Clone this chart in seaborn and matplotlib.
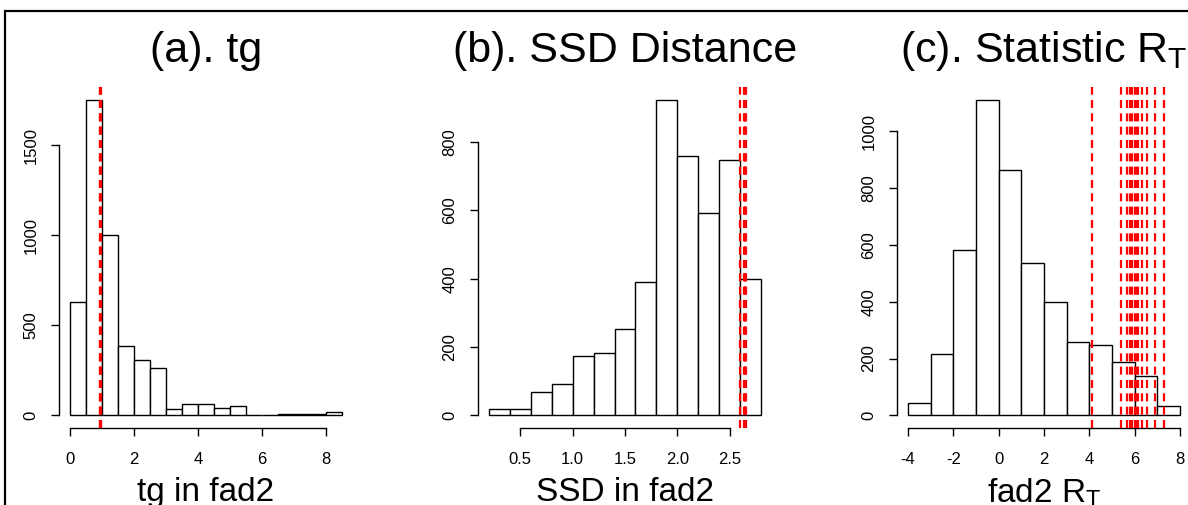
import numpy as np
import pandas as pd
import matplotlib
matplotlib.use("Agg")
import matplotlib.pyplot as plt
import seaborn as sns
from matplotlib.patches import Rectangle

# ---------------- data ----------------
tg_edges = [0.0, 0.5, 1.0, 1.5, 2.0, 2.5, 3.0, 3.5, 4.0, 4.5, 5.0, 5.5, 6.0, 6.5, 7.0, 7.5, 8.0, 8.5]
tg_counts = [630, 1754, 1004, 383, 306, 263, 33, 61, 61, 43, 52, 1, 1, 8, 8, 8, 18]
tg_obs = [0.93, 0.95, 0.97]
tg_xticks = [0, 2, 4, 6, 8]
tg_yticks = [0, 500, 1000, 1500]

ssd_edges = [0.2, 0.4, 0.6, 0.8, 1.0, 1.2, 1.4, 1.6, 1.8, 2.0, 2.2, 2.4, 2.6, 2.8]
ssd_counts = [18, 18, 68, 91, 174, 183, 253, 390, 924, 758, 592, 748, 399]
ssd_obs = [2.595, 2.64, 2.645, 2.65, 2.655]
ssd_xticks = [0.5, 1.0, 1.5, 2.0, 2.5]
ssd_xticklabels = ["0.5", "1.0", "1.5", "2.0", "2.5"]
ssd_yticks = [0, 200, 400, 600, 800]

rt_edges = [-4, -3, -2, -1, 0, 1, 2, 3, 4, 5, 6, 7, 8]
rt_counts = [43, 215, 581, 1111, 863, 536, 399, 258, 248, 188, 138, 33]
rt_obs = [4.13, 5.41, 5.68, 5.79, 5.90, 5.99, 6.08, 6.15, 6.34, 6.53, 6.88, 7.27]
rt_xticks = [-4, -2, 0, 2, 4, 6, 8]
rt_yticks = [0, 200, 400, 600, 800, 1000]

titles = ["(a). tg", "(b). SSD Distance", r"(c). Statistic $\mathregular{R_T}$"]
xlabels = ["tg in fad2", "SSD in fad2", r"fad2 $\mathregular{R_T}$"]

# ---------------- style ----------------
sns.set_style("ticks")
plt.rcParams["font.family"] = ["Liberation Sans", "DejaVu Sans"]
plt.rcParams["mathtext.fontset"] = "custom"
plt.rcParams["mathtext.rm"] = "Liberation Sans"
plt.rcParams["axes.unicode_minus"] = False
plt.rcParams["text.color"] = "black"
plt.rcParams["axes.labelcolor"] = "black"
plt.rcParams["xtick.color"] = "black"
plt.rcParams["ytick.color"] = "black"

W, H = 1188, 505
fig = plt.figure(figsize=(W / 100, H / 100), dpi=100)

panels = [
    (tg_edges, tg_counts, tg_obs, tg_xticks, None, tg_yticks),
    (ssd_edges, ssd_counts, ssd_obs, ssd_xticks, ssd_xticklabels, ssd_yticks),
    (rt_edges, rt_counts, rt_obs, rt_xticks, None, rt_yticks),
]
lefts_px = [59, 478, 897]
width_px = 294
top_px, bottom_px = 87, 428

for i, (edges, counts, obs, xt, xtl, yt) in enumerate(panels):
    ax = fig.add_axes([lefts_px[i] / W, (H - bottom_px) / H,
                       width_px / W, (bottom_px - top_px) / H])
    e = np.asarray(edges, float)
    centers = (e[:-1] + e[1:]) / 2
    df = pd.DataFrame({"x": centers, "w": np.asarray(counts, float)})
    sns.histplot(data=df, x="x", weights="w", bins=list(edges), ax=ax,
                 color="white", edgecolor="black", linewidth=1.0, alpha=1)
    for v in obs:
        ax.axvline(v, color="#ff0000", lw=1.6, ls=(0, (3.6, 2.4)), zorder=5)
    xr = e[-1] - e[0]
    ax.set_xlim(e[0] - 0.04 * xr, e[-1] + 0.04 * xr)
    m = max(counts)
    ax.set_ylim(-0.04 * m, 1.04 * m)
    ax.set_xticks(xt)
    if xtl is not None:
        ax.set_xticklabels(xtl)
    ax.set_yticks(yt)
    for s in ["top", "right"]:
        ax.spines[s].set_visible(False)
    ax.spines["bottom"].set_bounds(xt[0], xt[-1])
    ax.spines["left"].set_bounds(yt[0], yt[-1])
    for s in ["bottom", "left"]:
        ax.spines[s].set_linewidth(1.0)
        ax.spines[s].set_color("black")
    ax.tick_params(axis="both", direction="out", length=5.8, width=1.0,
                   color="black", labelsize=12, labelcolor="black")
    ax.tick_params(axis="x", pad=11.5)
    ax.tick_params(axis="y", pad=9, labelrotation=90)
    for lab in ax.get_yticklabels():
        lab.set_va("center")
    ax.set_ylabel("")
    ax.set_xlabel(xlabels[i], fontsize=24, labelpad=7)
    ax.set_title(titles[i], fontsize=31, pad=18, color="black")
    ax.set_facecolor("none")
    ax.grid(False)

fig.add_artist(Rectangle((5 / W, -0.5), 2.0, 1.5 - 11 / H,
                         transform=fig.transFigure, fill=False,
                         edgecolor="black", linewidth=1.6))

fig.savefig("out.png", dpi=100)
